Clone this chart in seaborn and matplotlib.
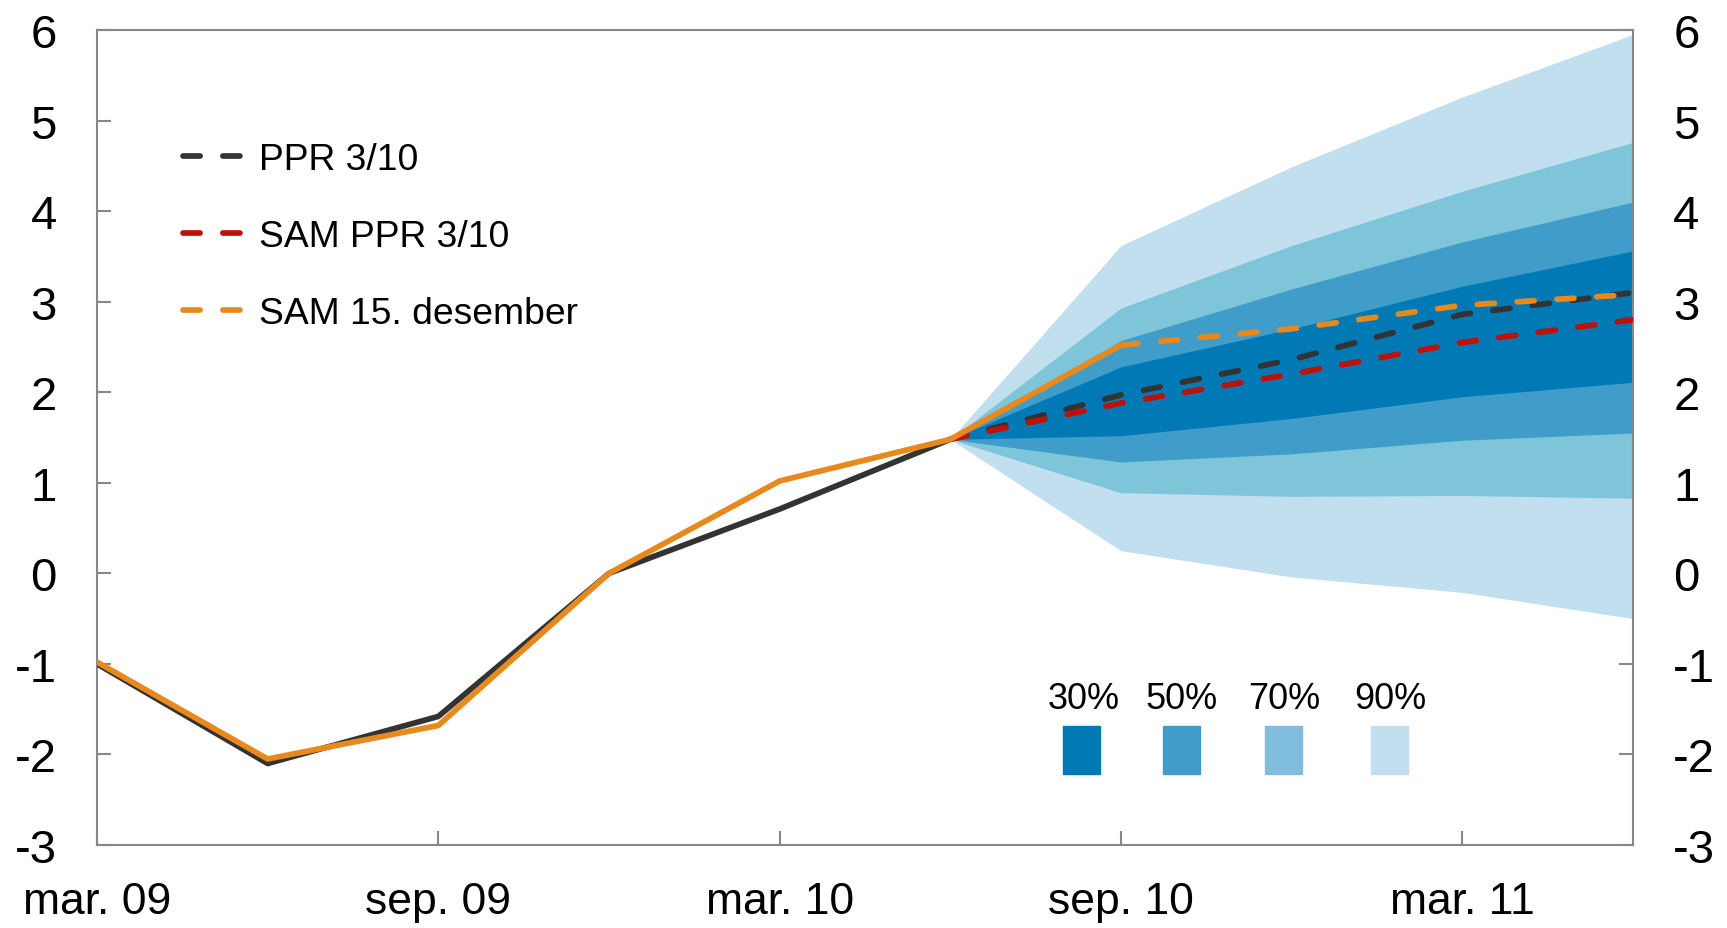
import matplotlib
matplotlib.use("Agg")
import matplotlib.pyplot as plt
import seaborn as sns
import pandas as pd

# quarters mar. 09 .. jun. 11
quarters = list(range(10))
tick_pos = [0, 2, 4, 6, 8]
tick_labels = ["mar. 09", "sep. 09", "mar. 10", "sep. 10", "mar. 11"]

# history / projections
ppr_hist = [-1.0, -2.1, -1.58, 0.0, 0.71, 1.48]
ppr_proj = [1.48, 1.97, 2.36, 2.86, 3.1]
sam_ppr_proj = [1.48, 1.88, 2.2, 2.55, 2.8]
sam_des_hist = [-0.98, -2.05, -1.68, 0.0, 1.02, 1.48, 2.52]
sam_des_proj = [2.52, 2.7, 2.96, 3.08]

# fan bands (from jun. 10 to jun. 11)
fan_x = [5, 6, 7, 8, 9]
band90_lo = [1.48, 0.25, -0.04, -0.21, -0.5]
band90_hi = [1.48, 3.62, 4.49, 5.26, 5.95]
band70_lo = [1.48, 0.89, 0.85, 0.86, 0.83]
band70_hi = [1.48, 2.93, 3.62, 4.22, 4.76]
band50_lo = [1.48, 1.23, 1.32, 1.47, 1.55]
band50_hi = [1.48, 2.57, 3.14, 3.66, 4.1]
band30_lo = [1.48, 1.52, 1.71, 1.95, 2.11]
band30_hi = [1.48, 2.28, 2.7, 3.17, 3.56]

band_labels = ["30%", "50%", "70%", "90%"]
band_colors = ["#0079b5", "#409cc8", "#7fc5da", "#c1dfee"]
band_legend_colors = ["#0079b5", "#409cc8", "#80bcdc", "#c1dfee"]

c_black = "#333333"
c_red = "#bf1108"
c_orange = "#e8891e"

sns.set_style("white")
plt.rcParams["font.family"] = ["Liberation Sans Narrow", "Liberation Sans", "DejaVu Sans"]
plt.rcParams["axes.unicode_minus"] = False
plt.rcParams["text.color"] = "black"

W, H = 1727, 929
fig = plt.figure(figsize=(W / 100, H / 100), dpi=100)
ax = fig.add_axes([97 / W, 1 - 846 / H, (1633 - 97) / W, (846 - 31) / H])

bands = [(band90_lo, band90_hi), (band70_lo, band70_hi),
         (band50_lo, band50_hi), (band30_lo, band30_hi)]
for (lo, hi), col in zip(bands, band_colors[::-1]):
    ax.fill_between(fan_x, lo, hi, color=col, lw=0, zorder=1)

lw = 4.1
dash = (0, (3.0, 4.0))
df = pd.DataFrame({"x": quarters[:6], "y": ppr_hist})
sns.lineplot(data=df, x="x", y="y", ax=ax, color=c_black, lw=lw, zorder=3)
sns.lineplot(x=fan_x, y=ppr_proj, ax=ax, color=c_black, lw=lw, zorder=4,
             linestyle=dash, dash_capstyle="round", label="PPR 3/10")
sns.lineplot(x=fan_x, y=sam_ppr_proj, ax=ax, color=c_red, lw=lw, zorder=4,
             linestyle=dash, dash_capstyle="round", label="SAM PPR 3/10")
sns.lineplot(x=quarters[:7], y=sam_des_hist, ax=ax, color=c_orange, lw=lw, zorder=5)
sns.lineplot(x=[6, 7, 8, 9], y=sam_des_proj, ax=ax, color=c_orange, lw=lw, zorder=5,
             linestyle=dash, dash_capstyle="round", label="SAM 15. desember")

ax.set_xlim(0, 9)
ax.set_ylim(-3, 6)
ax.set_xticks(tick_pos)
ax.set_xticklabels(tick_labels)
ax.set_yticks(range(-3, 7))
ax.set_xlabel("")
ax.set_ylabel("")
ax.tick_params(axis="both", direction="in", length=10, width=1.5, color="#888888",
               labelcolor="black")
ax.tick_params(axis="y", right=True, labelright=True, left=True, pad=29, labelsize=34)
ax.tick_params(axis="x", bottom=True, pad=26, labelsize=32)
for s in ax.spines.values():
    s.set_color("#888888")
    s.set_linewidth(1.5)

leg = ax.legend(loc="upper left", bbox_to_anchor=(0.056, 0.862), frameon=False,
                fontsize=26.8, labelspacing=1.12, handlelength=1.62, handletextpad=0.42,
                borderpad=0, borderaxespad=0)

# fan legend
label_x = [1084, 1182, 1284, 1390]
box_x = [1081, 1181, 1283, 1389]
for lab, col, lx, bx in zip(band_labels, band_legend_colors, label_x, box_x):
    fig.patches.append(plt.Rectangle(((bx - 18.5) / W, 1 - 775 / H), 37 / W, 48 / H,
                                     transform=fig.transFigure, color=col, figure=fig))
    fig.text(lx / W, 1 - 700 / H, lab, ha="center", va="center", fontsize=26)

fig.savefig("out.png", dpi=100)
